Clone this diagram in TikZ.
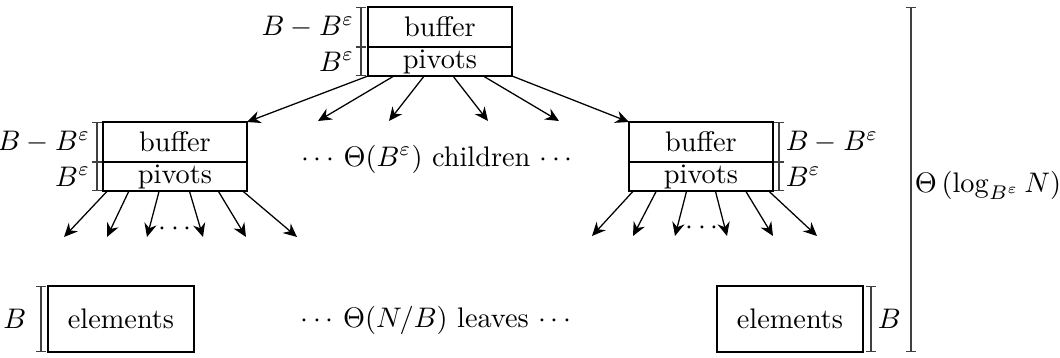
\documentclass[tikz,border=0pt]{standalone}
\usetikzlibrary{arrows.meta,calc}
\begin{document}
\begin{tikzpicture}[x=0.35336pt,y=-0.35336pt,
  box/.style={draw,line width=0.45pt,inner sep=0pt,outer sep=0pt,minimum width=50.88pt},
  bufbox/.style={box,minimum height=14.13pt},
  pivbox/.style={box,minimum height=10.25pt},
  leafbox/.style={box,minimum width=51.59pt,minimum height=23.32pt},
  dimline/.style={line width=0.4pt,draw=black!75,{Bar[width=3.2pt]}-{Bar[width=3.2pt]}},
  arr/.style={line width=0.45pt,-{Stealth[length=4.8pt,width=4.4pt,inset=1.6pt]}},
  lbl/.style={inner sep=2.2pt,text=black}
]
\useasboundingbox (0,0) rectangle (1060,358);

% boxes
\node[bufbox] (tbuf) at (440,27) {buffer};
\node[pivbox,anchor=north] (tpiv) at (tbuf.south) {pivots};
\node[bufbox] (lbuf) at (175,142) {buffer};
\node[pivbox,anchor=north] (lpiv) at (lbuf.south) {pivots};
\node[bufbox] (rbuf) at (701,142) {buffer};
\node[pivbox,anchor=north] (rpiv) at (rbuf.south) {pivots};
\node[leafbox] (lleaf) at (121,319) {elements};
\node[leafbox] (rleaf) at (790,319) {elements};

% brackets
\draw[dimline] ($(tbuf.north west)+(-7,0)$) -- ($(tbuf.south west)+(-7,0)$) node[midway,left,lbl] (tl1) {$B-B^{\varepsilon}$};
\draw[dimline] ($(tpiv.north west)+(-7,0)$) -- ($(tpiv.south west)+(-7,0)$) node[midway,left,lbl] (tl2) {$B^{\varepsilon}$};
\draw[dimline] ($(lbuf.north west)+(-6,0)$) -- ($(lbuf.south west)+(-6,0)$) node[midway,left,lbl] (ll1) {$B-B^{\varepsilon}$};
\draw[dimline] ($(lpiv.north west)+(-6,0)$) -- ($(lpiv.south west)+(-6,0)$) node[midway,left,lbl] (ll2) {$B^{\varepsilon}$};
\draw[dimline] ($(rbuf.north east)+(6,0)$) -- ($(rbuf.south east)+(6,0)$) node[midway,right,lbl] (rl1) {$B-B^{\varepsilon}$};
\draw[dimline] ($(rpiv.north east)+(6,0)$) -- ($(rpiv.south east)+(6,0)$) node[midway,right,lbl] (rl2) {$B^{\varepsilon}$};
\draw[dimline] ($(lleaf.north west)+(-7,0)$) -- ($(lleaf.south west)+(-7,0)$) node[midway,left,lbl,inner sep=5pt] (lb) {$B$};
\draw[dimline] ($(rleaf.north east)+(8,0)$) -- ($(rleaf.south east)+(8,0)$) node[midway,right,lbl] (rb) {$B$};

\coordinate (bigtop) at (911,0 |- tbuf.north);
\coordinate (bigbot) at (911,0 |- lleaf.south);
\draw[dimline] (bigtop) -- (bigbot) node[midway,right,lbl,inner sep=1.2pt,yshift=-2pt] (height) {$\Theta\left(\log_{B^{\varepsilon}} N\right)$};

% top arrows
\coordinate (t2) at (318,121);
\coordinate (t3) at (389,121);
\coordinate (t4) at (488,121);
\coordinate (t5) at (559,121);
\draw[arr] ($(tpiv.south west)!0.00!(tpiv.south east)$) -- (lbuf.north east);
\draw[arr] ($(tpiv.south west)!0.18!(tpiv.south east)$) -- (t2);
\draw[arr] ($(tpiv.south west)!0.39!(tpiv.south east)$) -- (t3);
\draw[arr] ($(tpiv.south west)!0.59!(tpiv.south east)$) -- (t4);
\draw[arr] ($(tpiv.south west)!0.80!(tpiv.south east)$) -- (t5);
\draw[arr] ($(tpiv.south west)!1.00!(tpiv.south east)$) -- (rbuf.north west);

% left arrows
\coordinate (la1) at (64,237);
\coordinate (la2) at (107,237);
\coordinate (la3) at (147,237);
\coordinate (la4) at (203,237);
\coordinate (la5) at (246,237);
\coordinate (la6) at (297,237);
\draw[arr] ($(lpiv.south west)!0.03!(lpiv.south east)$) -- (la1);
\draw[arr] ($(lpiv.south west)!0.18!(lpiv.south east)$) -- (la2);
\draw[arr] ($(lpiv.south west)!0.39!(lpiv.south east)$) -- (la3);
\draw[arr] ($(lpiv.south west)!0.60!(lpiv.south east)$) -- (la4);
\draw[arr] ($(lpiv.south west)!0.80!(lpiv.south east)$) -- (la5);
\draw[arr] ($(lpiv.south west)!0.97!(lpiv.south east)$) -- (la6);

% right arrows
\coordinate (ra1) at (592,236);
\coordinate (ra2) at (633,236);
\coordinate (ra3) at (675,236);
\coordinate (ra4) at (727,236);
\coordinate (ra5) at (773,236);
\coordinate (ra6) at (817,236);
\draw[arr] ($(rpiv.south west)!0.03!(rpiv.south east)$) -- (ra1);
\draw[arr] ($(rpiv.south west)!0.19!(rpiv.south east)$) -- (ra2);
\draw[arr] ($(rpiv.south west)!0.40!(rpiv.south east)$) -- (ra3);
\draw[arr] ($(rpiv.south west)!0.60!(rpiv.south east)$) -- (ra4);
\draw[arr] ($(rpiv.south west)!0.81!(rpiv.south east)$) -- (ra5);
\draw[arr] ($(rpiv.south west)!0.97!(rpiv.south east)$) -- (ra6);

% dots and texts
\node (ldots) at (175,229) {$\cdots$};
\node (rdots) at (702,228) {$\cdots$};
\node (children) at (437,159) {$\cdots$ $\Theta(B^{\varepsilon})$ children $\cdots$};
\node (leaves) at (436,320) {$\cdots$ $\Theta(N/B)$ leaves $\cdots$};
\end{tikzpicture}
\end{document}
